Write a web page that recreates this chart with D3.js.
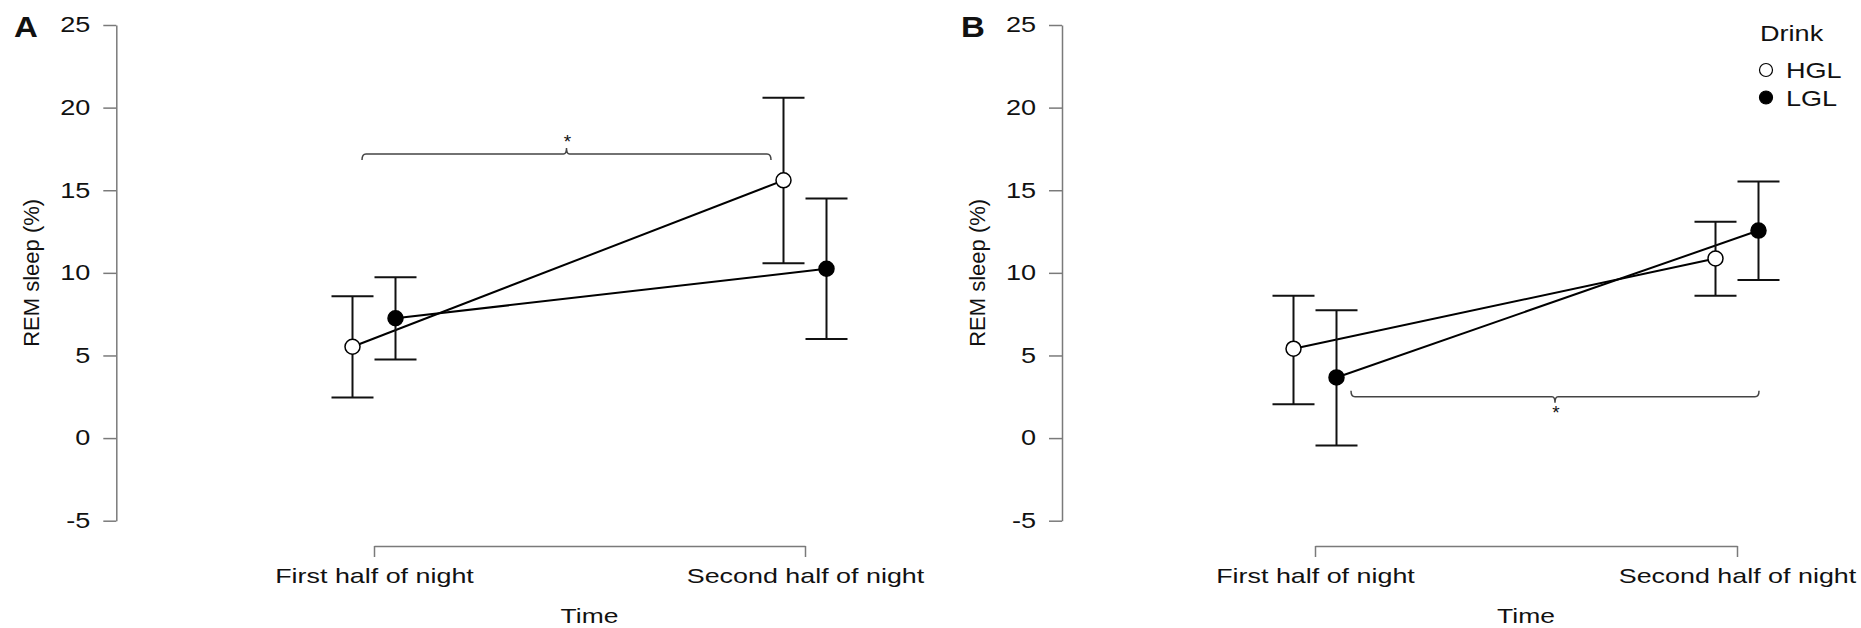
<!DOCTYPE html>
<html>
<meta charset="utf-8">
<style>
body { margin: 0; background: #fff; }
text { font-family: "Liberation Sans", Arial, sans-serif; fill: #111; }
</style>
<head>
<script src="https://d3js.org/d3.v7.min.js"></script>
</head>
<body>
<script>
// ---- data ----
var times = ["First half of night", "Second half of night"];
var drinks = ["HGL", "LGL"];
var yTicks = [-5, 0, 5, 10, 15, 20, 25];

// panel A
var meanA_HGL = [5.53, 15.6];
var lowA_HGL  = [2.46, 10.58];
var highA_HGL = [8.58, 20.6];
var meanA_LGL = [7.25, 10.25];
var lowA_LGL  = [4.76, 6.0];
var highA_LGL = [9.74, 14.5];

// panel B
var meanB_HGL = [5.41, 10.87];
var lowB_HGL  = [2.05, 8.62];
var highB_HGL = [8.62, 13.1];
var meanB_LGL = [3.67, 12.56];
var lowB_LGL  = [-0.45, 9.57];
var highB_LGL = [7.73, 15.53];

// significance brackets: level (REM %) and which drink they join
var sigA = {drink: "HGL", level: 17.2, label: "*"};
var sigB = {drink: "LGL", level: 2.5, label: "*"};

var SX = 1.26; // source figure is stretched horizontally

var width = 1861, height = 628;
var svg = d3.select("body").append("svg")
    .attr("width", width)
    .attr("height", height);

var y = d3.scaleLinear().domain([-5, 25]).range([520.7, 25]);

function stretched(parent, x, yy, str, size, anchor, weight) {
  var g = parent.append("g")
      .attr("transform", "translate(" + x + "," + yy + ") scale(" + SX + ",1)");
  g.append("text")
      .attr("text-anchor", anchor || "start")
      .style("font-size", size + "px")
      .style("font-weight", weight || "normal")
      .text(str);
  return g;
}

function drawPanel(p) {
  var x = d3.scalePoint().domain(times).range(p.xRange);
  var dodge = 21.5;
  var series = [
    {drink: "HGL", mean: p.hgl[0], low: p.hgl[1], high: p.hgl[2], off: -dodge},
    {drink: "LGL", mean: p.lgl[0], low: p.lgl[1], high: p.lgl[2], off: dodge}
  ];

  var g = svg.append("g");

  // y axis
  var yAxis = g.append("g")
      .attr("transform", "translate(" + p.axisX + ",0)")
      .call(d3.axisLeft(y).tickValues(yTicks).tickSize(13).tickSizeOuter(0)
        .tickFormat(function(d) { return String(d); }));
  yAxis.select(".domain").attr("stroke", "#7a7a7a").attr("stroke-width", 1.5);
  yAxis.selectAll(".tick line").attr("stroke", "#7a7a7a").attr("stroke-width", 1.5);
  yAxis.selectAll(".tick text")
      .attr("x", -26 / SX)
      .attr("transform", "scale(" + SX + ",1)")
      .style("font-size", "21.5px")
      .style("font-family", "Liberation Sans, Arial, sans-serif")
      .attr("fill", "#111");

  // x axis bracket
  var xAxis = g.append("g")
      .attr("transform", "translate(0,546)")
      .call(d3.axisBottom(x).tickSize(11).tickPadding(11).tickSizeOuter(0));
  xAxis.select(".domain").attr("stroke", "#7a7a7a").attr("stroke-width", 1.5);
  xAxis.selectAll(".tick line").attr("stroke", "#7a7a7a").attr("stroke-width", 1.5);
  xAxis.selectAll(".tick text")
      .attr("transform", "scale(" + (SX + 0.02) + ",1)")
      .style("font-size", "21px")
      .style("font-family", "Liberation Sans, Arial, sans-serif")
      .attr("fill", "#111");

  // axis titles
  var mid = (p.xRange[0] + p.xRange[1]) / 2;
  stretched(g, mid, 623, "Time", 21, "middle");
  g.append("text")
      .attr("transform", "translate(" + p.yLabelX + "," + y(10) + ") rotate(-90)")
      .attr("text-anchor", "middle")
      .style("font-size", "22px")
      .text("REM sleep (%)");

  // panel letter
  stretched(g, p.letterX, 37, p.letter, 30, "start", "bold").attr("transform",
      "translate(" + p.letterX + ",37) scale(1.1,1)");

  // connecting lines
  var line = d3.line()
      .x(function(d, i) { return x(times[i]) + d.off; })
      .y(function(d) { return y(d.v); });
  series.forEach(function(s) {
    g.append("path")
        .datum(s.mean.map(function(v) { return {v: v, off: s.off}; }))
        .attr("d", line)
        .attr("fill", "none")
        .attr("stroke", "#000")
        .attr("stroke-width", 2);
  });

  // error bars
  series.forEach(function(s) {
    times.forEach(function(t, i) {
      var cx = x(t) + s.off;
      var eb = g.append("g").attr("stroke", "#111").attr("stroke-width", 2);
      eb.append("line").attr("x1", cx).attr("x2", cx)
          .attr("y1", y(s.low[i])).attr("y2", y(s.high[i]));
      eb.append("line").attr("x1", cx - 21).attr("x2", cx + 21)
          .attr("y1", y(s.low[i])).attr("y2", y(s.low[i]));
      eb.append("line").attr("x1", cx - 21).attr("x2", cx + 21)
          .attr("y1", y(s.high[i])).attr("y2", y(s.high[i]));
    });
  });

  // points
  series.forEach(function(s) {
    g.selectAll(null)
        .data(s.mean)
      .enter().append("circle")
        .attr("cx", function(d, i) { return x(times[i]) + s.off; })
        .attr("cy", function(d) { return y(d); })
        .attr("r", 7.5)
        .attr("fill", s.drink == "HGL" ? "#fff" : "#000")
        .attr("stroke", "#000")
        .attr("stroke-width", 1.5);
  });

  // significance bracket
  var sg = series.filter(function(s) { return s.drink == p.sig.drink; })[0];
  var x1 = x(times[0]) + sg.off + p.sigInset[0];
  var x2 = x(times[1]) + sg.off - p.sigInset[1];
  var yl = y(p.sig.level);
  var dir = p.sigUp ? 1 : -1;   // which way the ends bend
  var bp = d3.path();
  bp.moveTo(x1, yl + dir * 6);
  bp.quadraticCurveTo(x1, yl, x1 + 4, yl);
  bp.lineTo((x1 + x2) / 2 - 3, yl);
  bp.quadraticCurveTo((x1 + x2) / 2, yl, (x1 + x2) / 2, yl - dir * 6);
  bp.quadraticCurveTo((x1 + x2) / 2, yl, (x1 + x2) / 2 + 3, yl);
  bp.lineTo(x2 - 4, yl);
  bp.quadraticCurveTo(x2, yl, x2, yl + dir * 6);
  g.append("path")
      .attr("d", bp.toString())
      .attr("fill", "none")
      .attr("stroke", "#444")
      .attr("stroke-width", 1.5);
  g.append("text")
      .attr("x", (x1 + x2) / 2 + 1)
      .attr("y", p.sigUp ? yl - 6 : yl + 22)
      .attr("text-anchor", "middle")
      .style("font-size", "19px")
      .text(p.sig.label);
}

drawPanel({
  letter: "A", letterX: 14, axisX: 116.3, yLabelX: 39,
  xRange: [374, 805],
  hgl: [meanA_HGL, lowA_HGL, highA_HGL],
  lgl: [meanA_LGL, lowA_LGL, highA_LGL],
  sig: sigA, sigUp: true, sigInset: [9.5, 12.5]
});

drawPanel({
  letter: "B", letterX: 961, axisX: 1062, yLabelX: 985,
  xRange: [1315, 1737],
  hgl: [meanB_HGL, lowB_HGL, highB_HGL],
  lgl: [meanB_LGL, lowB_LGL, highB_LGL],
  sig: sigB, sigUp: false, sigInset: [14.5, -0.5]
});

// legend
var legend = svg.append("g");
stretched(legend, 1760, 41, "Drink", 21.5, "start");
drinks.forEach(function(d, i) {
  legend.append("circle")
      .attr("cx", 1766)
      .attr("cy", 70 + i * 27.5)
      .attr("r", 6.5)
      .attr("fill", d == "HGL" ? "#fff" : "#000")
      .attr("stroke", "#000")
      .attr("stroke-width", 1.2);
  stretched(legend, 1786, 78 + i * 27.5, d, 21.5, "start");
});
</script>
</body>
</html>
